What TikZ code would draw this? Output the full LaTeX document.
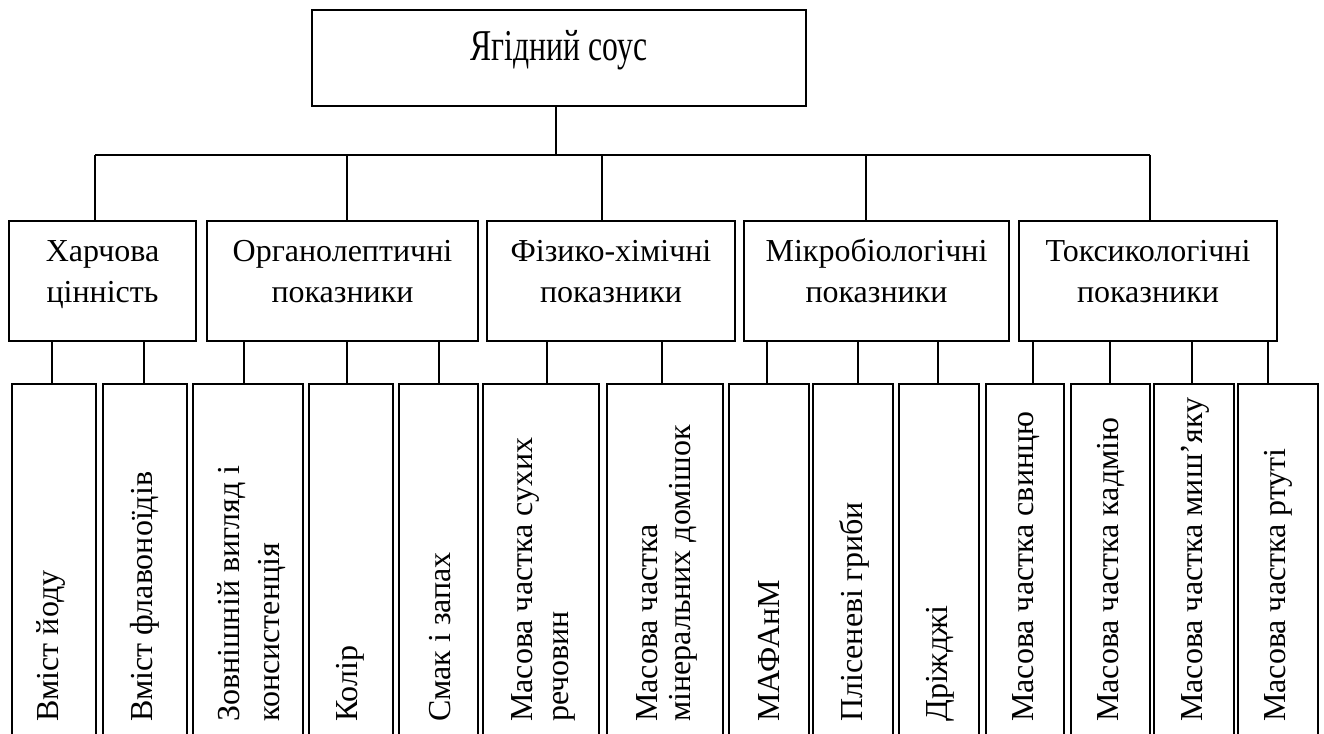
\documentclass[tikz,border=0pt]{standalone}
\usepackage{fontspec}
\setmainfont{Liberation Serif}
\usepackage{graphicx}
\newcommand\MyC[2]{{\fontsize{32}{#1}\selectfont\begin{tabular}[b]{@{}c@{}}#2\end{tabular}}}
\newcommand\MyL[2]{{\fontsize{32}{#1}\selectfont\begin{tabular}{@{}l@{}}#2\end{tabular}}}
\begin{document}
\begin{tikzpicture}[x=1pt,y=1pt,
  box/.style={draw, line width=1.8pt, inner sep=0pt},
  ln/.style={line width=1.8pt},
  l2box/.style={box, minimum height=120pt},
  l3box/.style={box, minimum height=369pt},
  l2text/.style={inner sep=0pt, anchor=base},
  l3text/.style={inner sep=0pt, rotate=90, anchor=west, font=\fontsize{32}{36}\selectfont}]
\useasboundingbox (0,0) rectangle (1324,733);
\clip (0,0) rectangle (1324,733);
% title
\node[box, minimum width=494pt, minimum height=96pt] (top) at (559,675) {};
\node[anchor=base, inner sep=0pt, font=\fontsize{44}{48}\selectfont] (toptext) at (559,672) {\scalebox{0.72}[1]{Ягідний соус}};
% level 2
\node[l2box, minimum width=187pt] (h1) at (102.5,452) {};
\node[l2box, minimum width=271pt] (h2) at (342.5,452) {};
\node[l2box, minimum width=248pt] (h3) at (611,452) {};
\node[l2box, minimum width=265pt] (h4) at (876.5,452) {};
\node[l2box, minimum width=258pt] (h5) at (1148,452) {};
\node[l2text] (h1t) at (102.5,430) {\MyC{41}{Харчова\\цінність}};
\node[l2text] (h2t) at (342.5,430) {\MyC{41}{Органолептичні\\показники}};
\node[l2text] (h3t) at (611,430) {\MyC{41}{Фізико-хімічні\\показники}};
\node[l2text] (h4t) at (876.5,430) {\MyC{41}{Мікробіологічні\\показники}};
\node[l2text] (h5t) at (1148,430) {\MyC{41}{Токсикологічні\\показники}};
% bus
\coordinate (trunk) at (556,578);
\coordinate (b1) at (95,578);
\coordinate (b2) at (347,578);
\coordinate (b3) at (602,578);
\coordinate (b4) at (866,578);
\coordinate (b5) at (1150,578);
\draw[ln] (top.south -| trunk) -- (trunk);
\draw[ln] (b1) -- (b5);
\draw[ln] (b1) -- (b1 |- h1.north);
\draw[ln] (b2) -- (b2 |- h2.north);
\draw[ln] (b3) -- (b3 |- h3.north);
\draw[ln] (b4) -- (b4 |- h4.north);
\draw[ln] (b5) -- (b5 |- h5.north);
% level 3
\node[l3box, minimum width=84pt] (c1) at (54,164.5) {};
\node[l3box, minimum width=84pt] (c2) at (145,164.5) {};
\node[l3box, minimum width=110pt] (c3) at (248,164.5) {};
\node[l3box, minimum width=84pt] (c4) at (351,164.5) {};
\node[l3box, minimum width=79pt] (c5) at (438.5,164.5) {};
\node[l3box, minimum width=116pt] (c6) at (541,164.5) {};
\node[l3box, minimum width=116pt] (c7) at (665,164.5) {};
\node[l3box, minimum width=80pt] (c8) at (769,164.5) {};
\node[l3box, minimum width=80pt] (c9) at (853,164.5) {};
\node[l3box, minimum width=80pt] (c10) at (939,164.5) {};
\node[l3box, minimum width=78pt] (c11) at (1025,164.5) {};
\node[l3box, minimum width=79pt] (c12) at (1110.5,164.5) {};
\node[l3box, minimum width=80pt] (c13) at (1194,164.5) {};
\node[l3box, minimum width=80pt] (c14) at (1278,164.5) {};
\node[l3text] (t1) at (51,11) {Вміст йоду};
\node[l3text] (t2) at (145,11) {Вміст флавоноїдів};
\node[l3text] (t3) at (251,11) {\MyL{40}{Зовнішній вигляд і\\консистенція}};
\node[l3text] (t4) at (350,11) {Колір};
\node[l3text] (t5) at (440,11) {Смак і запах};
\node[l3text] (t6) at (543,11) {\MyL{36}{Масова частка сухих\\речовин}};
\node[l3text] (t7) at (667,11) {\MyL{33}{Масова частка\\мінеральних домішок}};
\node[l3text] (t8) at (769,11) {МАФАнМ};
\node[l3text] (t9) at (854,11) {Плісеневі гриби};
\node[l3text] (t10) at (940,11) {Дріжджі};
\node[l3text] (t11) at (1026,11) {Масова частка свинцю};
\node[l3text] (t12) at (1111,11) {Масова частка кадмію};
\node[l3text] (t13) at (1195,11) {Масова частка миш’яку};
\node[l3text] (t14) at (1278,11) {Масова частка ртуті};
% level 2 to level 3 connectors
\coordinate (k1) at (52,392);
\coordinate (k2) at (144,392);
\coordinate (k3) at (244,392);
\coordinate (k4) at (347,392);
\coordinate (k5) at (439,392);
\coordinate (k6) at (547,392);
\coordinate (k7) at (662,392);
\coordinate (k8) at (767,392);
\coordinate (k9) at (858,392);
\coordinate (k10) at (938,392);
\coordinate (k11) at (1033,392);
\coordinate (k12) at (1110,392);
\coordinate (k13) at (1192,392);
\coordinate (k14) at (1268,392);
\draw[ln] (k1) -- (k1 |- c1.north);
\draw[ln] (k2) -- (k2 |- c2.north);
\draw[ln] (k3) -- (k3 |- c3.north);
\draw[ln] (k4) -- (k4 |- c4.north);
\draw[ln] (k5) -- (k5 |- c5.north);
\draw[ln] (k6) -- (k6 |- c6.north);
\draw[ln] (k7) -- (k7 |- c7.north);
\draw[ln] (k8) -- (k8 |- c8.north);
\draw[ln] (k9) -- (k9 |- c9.north);
\draw[ln] (k10) -- (k10 |- c10.north);
\draw[ln] (k11) -- (k11 |- c11.north);
\draw[ln] (k12) -- (k12 |- c12.north);
\draw[ln] (k13) -- (k13 |- c13.north);
\draw[ln] (k14) -- (k14 |- c14.north);
\end{tikzpicture}
\end{document}
